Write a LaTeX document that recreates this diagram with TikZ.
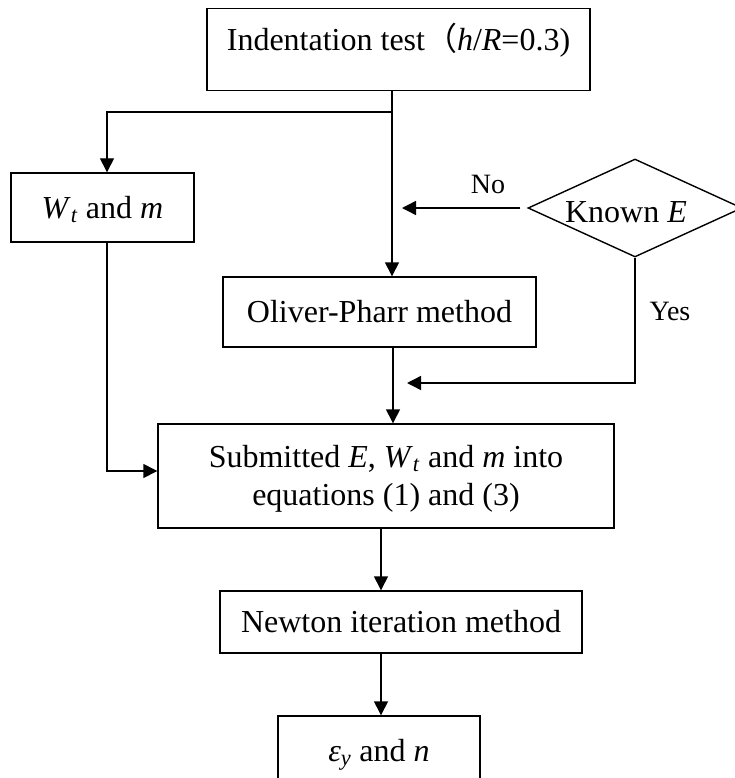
\documentclass[tikz,border=0pt]{standalone}
\usepackage{fontspec}
\setmainfont{Liberation Serif}
\newfontfamily\cjk{Noto Sans CJK SC}
\usetikzlibrary{arrows.meta,shapes.geometric}
\begin{document}
\begin{tikzpicture}[x=1pt,y=-1pt,
  font=\fontsize{32}{38}\selectfont,
  box/.style={draw, line width=1.4pt, inner sep=0pt, text height=21pt, text depth=0pt},
  conn/.style={line width=1.4pt},
  arr/.style={conn, -{Triangle[length=14pt,width=14pt]}},
  lbl/.style={inner sep=0pt, font=\fontsize{28}{32}\selectfont, text height=19pt, text depth=0pt}]
\useasboundingbox (0,0) rectangle (734,778);
% nodes
\node[box, minimum width=383pt, text height=42pt, text depth=40pt, anchor=north] (top) at (398.5,8)
  {Indentation test{\cjk （}\textit{h}/\textit{R}=0.3)};
\node[box, minimum width=183pt, minimum height=69pt] (wt) at (102.5,207.5)
  {\textit{W}\textsubscript{\textit{t}} and \textit{m}};
\node[box, minimum width=313pt, minimum height=70pt] (olv) at (379.5,312) {Oliver-Pharr method};
\node[box, minimum width=456pt, minimum height=104pt, align=center, text height=59pt, text depth=0pt] (sub) at (386,476)
  {Submitted \textit{E}, \textit{W}\textsubscript{\textit{t}} and \textit{m} into\\equations (1) and (3)};
\node[box, minimum width=362pt, minimum height=62pt] (newt) at (401,622) {Newton iteration method};
\node[box, minimum width=202pt, minimum height=70pt] (eps) at (379,751)
  {\textit{ε}\textsubscript{\textit{y}} and \textit{n}};
\node[draw, line width=1.4pt, diamond, inner sep=0pt, aspect=2.18, minimum width=214pt, minimum height=98pt,
  text height=29pt, text depth=0pt] (dia) at (635,208) {Known \textit{E}\kern18pt\relax};
% coordinates
\coordinate (j1) at (392,112);
\coordinate (j2) at (107,112);
\coordinate (j3) at (107,471);
\coordinate (noend) at (402,208);
\coordinate (yc) at (635,383);
\coordinate (yesend) at (407,383);
\coordinate (c1) at (393,0);
\coordinate (c2) at (381,0);
% connectors
\draw[arr] (top.south -| j1) -- (j1 |- olv.north);
\draw[arr] (j1) -- (j2) -- (j2 |- wt.north);
\draw[arr] (j3 |- wt.south) -- (j3) -- (j3 -| sub.west);
\draw[arr] ([xshift=-7pt]dia.west) -- (noend);
\draw[arr] (dia.south) -- (yc) -- (yesend);
\draw[arr] (olv.south -| c1) -- (sub.north -| c1);
\draw[arr] (sub.south -| c2) -- (newt.north -| c2);
\draw[arr] (newt.south -| c2) -- (eps.north -| c2);
% labels
\node[lbl] (nolbl) at (488,184) {No};
\node[lbl] (yeslbl) at (670,311) {Yes};
\end{tikzpicture}
\end{document}
